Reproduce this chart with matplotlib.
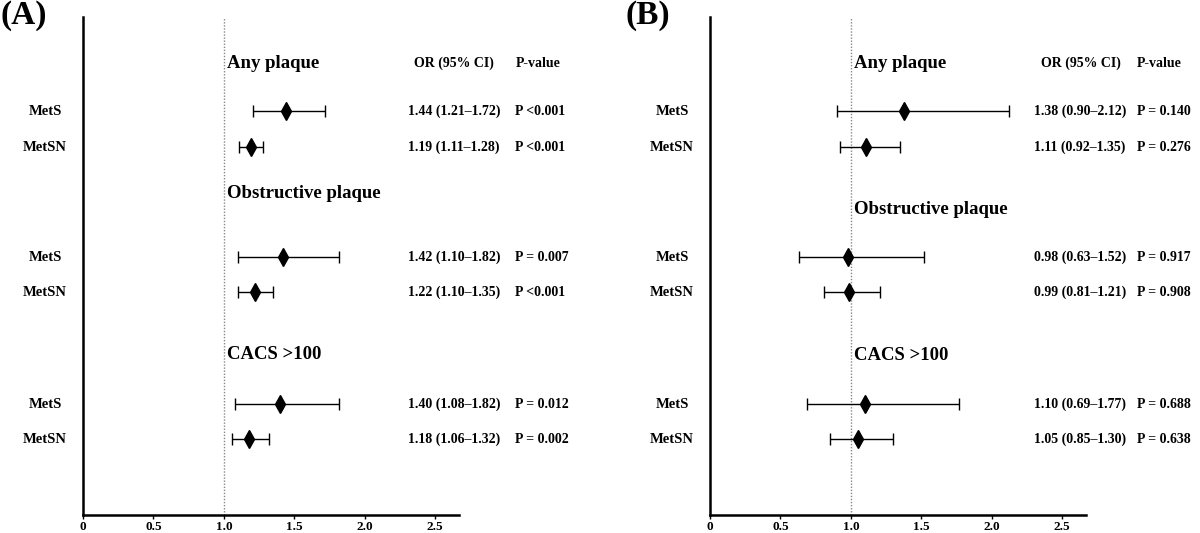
import matplotlib
matplotlib.use('Agg')
import matplotlib.pyplot as plt

plt.rcParams['font.family'] = ['Liberation Serif', 'DejaVu Serif']
plt.rcParams['font.weight'] = 'bold'

groups = ['Any plaque', 'Obstructive plaque', 'CACS >100']
row_names = ['MetS', 'MetSN', 'MetS', 'MetSN', 'MetS', 'MetSN']

# panel A
or_a = [1.44, 1.19, 1.42, 1.22, 1.40, 1.18]
lo_a = [1.21, 1.11, 1.10, 1.10, 1.08, 1.06]
hi_a = [1.72, 1.28, 1.82, 1.35, 1.82, 1.32]
p_a = ['P <0.001', 'P <0.001', 'P = 0.007', 'P <0.001', 'P = 0.012', 'P = 0.002']

# panel B
or_b = [1.38, 1.11, 0.98, 0.99, 1.10, 1.05]
lo_b = [0.90, 0.92, 0.63, 0.81, 0.69, 0.85]
hi_b = [2.12, 1.35, 1.52, 1.21, 1.77, 1.30]
p_b = ['P = 0.140', 'P = 0.276', 'P = 0.917', 'P = 0.908', 'P = 0.688', 'P = 0.638']

xticks = [0, 0.5, 1.0, 1.5, 2.0, 2.5]
xtick_labels = ['0', '0.5', '1.0', '1.5', '2.0', '2.5']

# layout (pixels down from the top of the plotting area)
row_y = [94, 130, 240, 275, 387, 422]
heading_y = {'A': [46, 176, 337], 'B': [46, 192, 338]}
col_x = {'A': (2.31, 2.35, 3.07, 3.07), 'B': (2.30, 2.35, 3.03, 3.03)}


def draw_panel(ax, key, orv, lo, hi, pv):
    ax.set_xlim(0, 2.67)
    ax.set_ylim(498, 0)
    ax.axvline(1.0, color='#888888', lw=1.0, ls=(0, (1, 1.2)), zorder=1)
    xerr = [[o - l for o, l in zip(orv, lo)], [h - o for o, h in zip(orv, hi)]]
    ax.errorbar(orv, row_y, xerr=xerr, fmt='d', color='black', ms=9,
                ecolor='black', elinewidth=1.0, capsize=4.5, capthick=1.0, zorder=3)
    yt = ax.get_yaxis_transform()
    for name, y in zip(row_names, row_y):
        ax.text(-0.101, y, name, transform=yt, ha='center', va='center', fontsize=10.5)
    for g, y in zip(groups, heading_y[key]):
        ax.text(1.02, y, g, ha='left', va='center', fontsize=13.5)
    ox, hx, px, phx = col_x[key]
    hy = heading_y[key][0]
    ax.text(hx, hy, 'OR (95% CI)', ha='left', va='center', fontsize=10)
    ax.text(phx, hy, 'P-value', ha='left', va='center', fontsize=10)
    for o, l, h, p, y in zip(orv, lo, hi, pv, row_y):
        ax.text(ox, y, f'{o:.2f} ({l:.2f}\u2013{h:.2f})', ha='left', va='center', fontsize=10)
        ax.text(px, y, p, ha='left', va='center', fontsize=10)
    for s in ['top', 'right']:
        ax.spines[s].set_visible(False)
    ax.spines['left'].set_linewidth(1.8)
    ax.spines['bottom'].set_linewidth(1.8)
    ax.set_yticks([])
    ax.set_xticks(xticks)
    ax.set_xticklabels(xtick_labels, fontsize=9.5, fontweight='bold')
    ax.tick_params(axis='x', length=3, width=1, pad=1.5)


fig = plt.figure(figsize=(12, 5.33), dpi=100)
ax_a = fig.add_axes([83 / 1200, 1 - 515 / 533, 376 / 1200, 498 / 533])
ax_b = fig.add_axes([710 / 1200, 1 - 515 / 533, 376 / 1200, 498 / 533])
draw_panel(ax_a, 'A', or_a, lo_a, hi_a, p_a)
draw_panel(ax_b, 'B', or_b, lo_b, hi_b, p_b)
fig.text(0.0, 1.0, '(A)', ha='left', va='top', fontsize=24)
fig.text(626 / 1200, 1.0, '(B)', ha='left', va='top', fontsize=24)

fig.savefig('out.png', dpi=100)
